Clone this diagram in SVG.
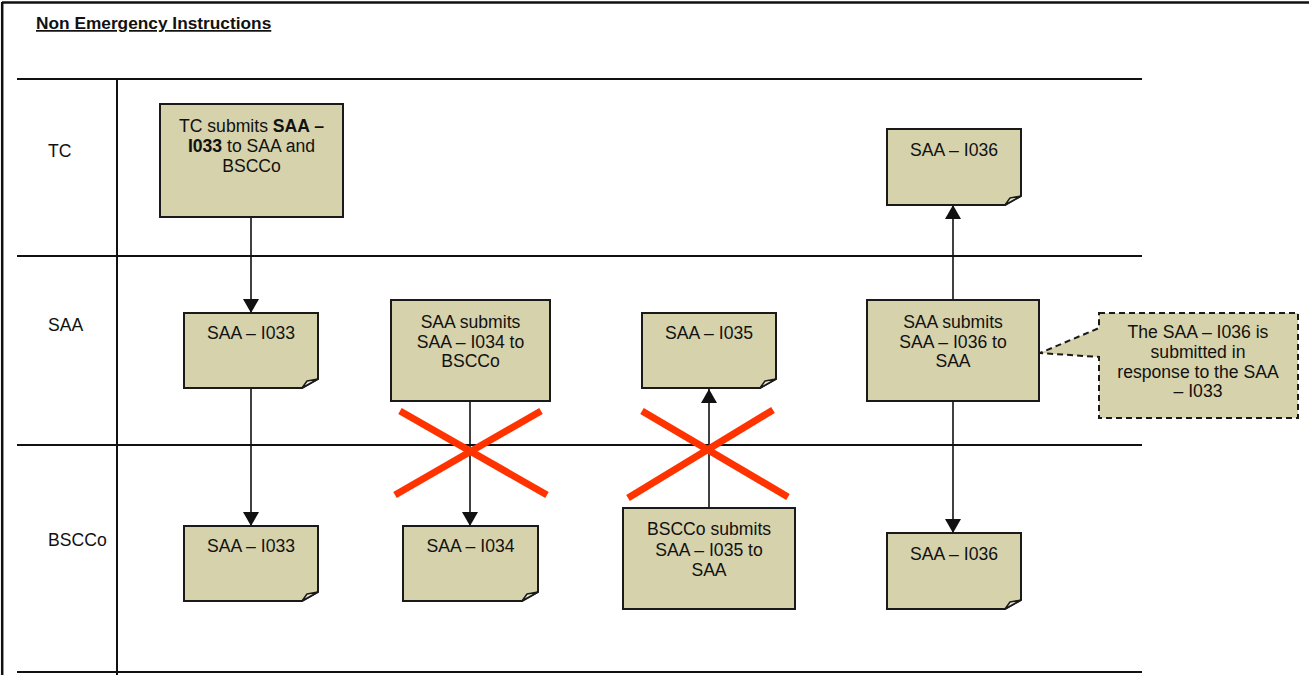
<svg xmlns="http://www.w3.org/2000/svg" width="1309" height="675" viewBox="0 0 1309 675">
<style>
text{font-family:"Liberation Sans",Arial,sans-serif;font-size:17.6px;fill:#111}
.c{text-anchor:middle}
.box{fill:#d6d2ab;stroke:#1a1a1a;stroke-width:2}
.fold{fill:#ecead7;stroke:#1a1a1a;stroke-width:1.5;stroke-linejoin:round}
.lane{stroke:#111;stroke-width:2;fill:none}
.conn{stroke:#111;stroke-width:1.6;fill:none}
.x{stroke:#ff3300;stroke-width:7;stroke-linecap:butt}
.dash{fill:#d6d2ab;stroke:#1a1a1a;stroke-width:2;stroke-dasharray:6 4}
</style>
<defs>
<marker id="ah" viewBox="0 0 14 16" refX="14" refY="8" markerWidth="14" markerHeight="16" markerUnits="userSpaceOnUse" orient="auto">
<path d="M0,0 L14,8 L0,16 Z" fill="#111"/>
</marker>
</defs>
<rect width="1309" height="675" fill="#fff"/>
<g id="frame">
<line x1="2" y1="2.5" x2="1309" y2="2.5" stroke="#111" stroke-width="2.5"/>
<line x1="2.2" y1="2" x2="2.2" y2="675" stroke="#111" stroke-width="2.5"/>
<line class="lane" x1="17" y1="79" x2="1142" y2="79"/>
<line class="lane" x1="17" y1="256" x2="1142" y2="256"/>
<line class="lane" x1="17" y1="445" x2="1142" y2="445"/>
<line class="lane" x1="17" y1="672" x2="1142" y2="672"/>
<line class="lane" x1="117" y1="79" x2="117" y2="675"/>
<text x="36" y="29" font-weight="bold" text-decoration="underline" style="font-size:17.3px">Non Emergency Instructions</text>
<text x="48" y="157">TC</text>
<text x="48" y="331">SAA</text>
<text x="48" y="546">BSCCo</text>
</g>
<g id="connectors">
<line class="conn" x1="251" y1="217" x2="251" y2="313" marker-end="url(#ah)"/>
<line class="conn" x1="251" y1="388" x2="251" y2="526" marker-end="url(#ah)"/>
<line class="conn" x1="470" y1="401" x2="470" y2="526" marker-end="url(#ah)"/>
<line class="conn" x1="709" y1="508" x2="709" y2="389" marker-end="url(#ah)"/>
<line class="conn" x1="953" y1="300" x2="953" y2="205" marker-end="url(#ah)"/>
<line class="conn" x1="953" y1="401" x2="953" y2="533" marker-end="url(#ah)"/>
</g>
<g id="tc-submit">
<rect class="box" x="160" y="104" width="183" height="113"/>
<text class="c" x="251.5" y="132">TC submits <tspan font-weight="bold">SAA –</tspan></text>
<text class="c" x="251.5" y="152"><tspan font-weight="bold">I033</tspan> to SAA and</text>
<text class="c" x="251.5" y="172">BSCCo</text>
</g>
<g id="saa-i033">
<path class="box" d="M184,313 H318 V379 L302,388 H184 Z"/>
<path class="fold" d="M302,388 L318,379 L307,381 Z"/>
<text class="c" x="251" y="339">SAA – I033</text>
</g>
<g id="bscco-i033">
<path class="box" d="M184,526 H318 V592 L302,601 H184 Z"/>
<path class="fold" d="M302,601 L318,592 L307,594 Z"/>
<text class="c" x="251" y="552">SAA – I033</text>
</g>
<g id="saa-submit-i034">
<rect class="box" x="391" y="300" width="159" height="101"/>
<text class="c" x="470.5" y="328">SAA submits</text>
<text class="c" x="470.5" y="348">SAA – I034 to</text>
<text class="c" x="470.5" y="367">BSCCo</text>
</g>
<g id="bscco-i034">
<path class="box" d="M403,526 H538 V592 L522,601 H403 Z"/>
<path class="fold" d="M522,601 L538,592 L527,594 Z"/>
<text class="c" x="470.5" y="552">SAA – I034</text>
</g>
<g id="saa-i035">
<path class="box" d="M642,313 H776 V379 L760,388 H642 Z"/>
<path class="fold" d="M760,388 L776,379 L765,381 Z"/>
<text class="c" x="709" y="339">SAA – I035</text>
</g>
<g id="bscco-submit-i035">
<rect class="box" x="623" y="508" width="172" height="101"/>
<text class="c" x="709" y="535">BSCCo submits</text>
<text class="c" x="709" y="556">SAA – I035 to</text>
<text class="c" x="709" y="576">SAA</text>
</g>
<g id="tc-i036">
<path class="box" d="M887,129 H1021 V196 L1005,205 H887 Z"/>
<path class="fold" d="M1005,205 L1021,196 L1010,198 Z"/>
<text class="c" x="954" y="156">SAA – I036</text>
</g>
<g id="saa-submit-i036">
<rect class="box" x="867" y="300" width="172" height="101"/>
<text class="c" x="953" y="328">SAA submits</text>
<text class="c" x="953" y="348">SAA – I036 to</text>
<text class="c" x="953" y="367">SAA</text>
</g>
<g id="bscco-i036">
<path class="box" d="M887,533 H1021 V600 L1005,609 H887 Z"/>
<path class="fold" d="M1005,609 L1021,600 L1010,602 Z"/>
<text class="c" x="954" y="560">SAA – I036</text>
</g>
<g id="callout">
<path class="dash" d="M1099,313 H1298 V418 H1099 V357 L1040,353 L1099,328 Z"/>
<text class="c" x="1198" y="338">The SAA – I036 is</text>
<text class="c" x="1198" y="358">submitted in</text>
<text class="c" x="1198" y="378">response to the SAA</text>
<text class="c" x="1198" y="397">– I033</text>
</g>
<g id="crosses">
<line class="x" x1="400" y1="411" x2="547" y2="495"/>
<line class="x" x1="541" y1="411" x2="395" y2="495"/>
<line class="x" x1="642" y1="411" x2="788" y2="497"/>
<line class="x" x1="773" y1="410" x2="628" y2="498"/>
</g>
</svg>
